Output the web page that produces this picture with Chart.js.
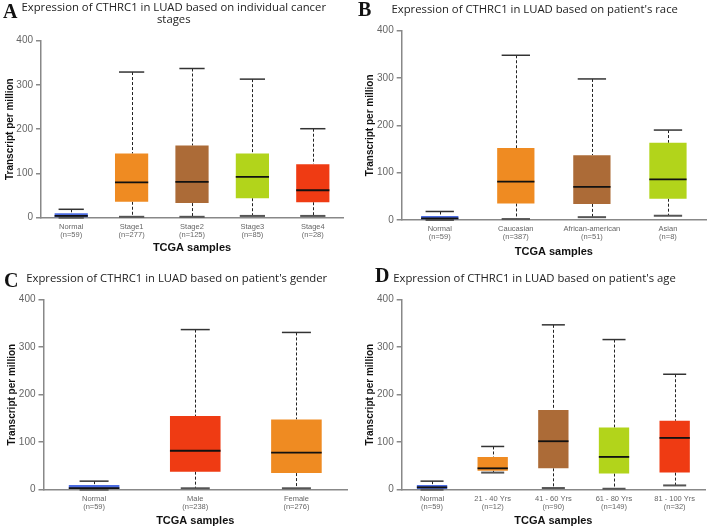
<!DOCTYPE html>
<html>
<head>
<meta charset="utf-8">
<script src="https://cdn.jsdelivr.net/npm/chart.js@4.4.0/dist/chart.umd.min.js"></script>
<style>
body { margin: 0; background: #fff; }
#wrap { position: relative; width: 708px; height: 528px; }
.panel { position: absolute; width: 354px; height: 264px; }
.tag { position: absolute; font-family: "Liberation Serif", serif; font-weight: bold; font-size: 20px; line-height: 20px; color: #111; }
</style>
</head>
<body>
<div id="wrap">
  <div class="panel" style="left:0;top:0"><canvas id="cA" width="354" height="264"></canvas></div>
  <div class="panel" style="left:354px;top:0"><canvas id="cB" width="354" height="264"></canvas></div>
  <div class="panel" style="left:0;top:264px"><canvas id="cC" width="354" height="264"></canvas></div>
  <div class="panel" style="left:354px;top:264px"><canvas id="cD" width="354" height="264"></canvas></div>
  <div class="tag" style="left:3px;top:1px">A</div>
  <div class="tag" style="left:358px;top:-1px">B</div>
  <div class="tag" style="left:4px;top:270px">C</div>
  <div class="tag" style="left:375px;top:265px">D</div>
</div>
<script>
// colours used by the portal
var BLUE = '#4b6be0', ORANGE = '#ef8b22', BROWN = '#ac6b37', LIME = '#b2d41b', RED = '#ef3b13';

// A - cancer stages
var stageCats = ['Normal', 'Stage1', 'Stage2', 'Stage3', 'Stage4'];
var stageN = [59, 277, 125, 85, 28];
var stageMin = [0, 2, 2, 4, 4];
var stageQ1 = [1, 36, 33, 44, 35];
var stageMed = [4, 80, 81, 92, 62];
var stageQ3 = [9.8, 145, 163, 145, 121];
var stageMax = [19, 329, 337, 313, 201];

// B - race
var raceCats = ['Normal', 'Caucasian', 'African-american', 'Asian'];
var raceN = [59, 387, 51, 8];
var raceMin = [0, 2, 6, 9];
var raceQ1 = [1.5, 35, 34, 45];
var raceMed = [3.5, 81, 70, 86];
var raceQ3 = [8.5, 152, 137, 163];
var raceMax = [18, 348, 298, 190];

// C - gender
var genderCats = ['Normal', 'Male', 'Female'];
var genderN = [59, 238, 276];
var genderMin = [0, 3, 3];
var genderQ1 = [1.4, 38, 35];
var genderMed = [3.5, 82, 78];
var genderQ3 = [10, 155, 148];
var genderMax = [18, 337, 331];

// D - age
var ageCats = ['Normal', '21 - 40 Yrs', '41 - 60 Yrs', '61 - 80 Yrs', '81 - 100 Yrs'];
var ageN = [59, 12, 90, 149, 32];
var ageMin = [0, 36, 3.5, 2, 9];
var ageQ1 = [1.4, 40, 45, 34, 36];
var ageMed = [5, 45, 102, 69, 109];
var ageQ3 = [10, 69, 168, 131, 145];
var ageMax = [18, 91, 347, 316, 243];

var yTicks = [0, 100, 200, 300, 400];

// whiskers + medians drawn from the dataset stats via the chart scales
var whiskers = {
  id: 'whiskers',
  beforeDatasetsDraw: function(chart) {
    var ctx = chart.ctx, y = chart.scales.y;
    var st = chart.data.datasets[0].stats;
    var bars = chart.getDatasetMeta(0).data;
    ctx.save();
    ctx.strokeStyle = '#222';
    ctx.lineWidth = 1;
    ctx.setLineDash([3, 2]);
    bars.forEach(function(bar, i) {
      var cx = Math.round(bar.x) + 0.5;
      ctx.beginPath();
      ctx.moveTo(cx, y.getPixelForValue(st.max[i]));
      ctx.lineTo(cx, y.getPixelForValue(st.q3[i]));
      ctx.moveTo(cx, y.getPixelForValue(st.q1[i]));
      ctx.lineTo(cx, y.getPixelForValue(st.min[i]));
      ctx.stroke();
    });
    ctx.restore();
  },
  afterDatasetsDraw: function(chart) {
    var ctx = chart.ctx, y = chart.scales.y;
    var st = chart.data.datasets[0].stats;
    var bars = chart.getDatasetMeta(0).data;
    ctx.save();
    bars.forEach(function(bar, i) {
      var half = bar.width / 2;
      var cap = Math.min(bar.width * 0.38, 14.5);
      // top cap
      ctx.strokeStyle = '#333';
      ctx.lineWidth = 1.5;
      ctx.beginPath();
      ctx.moveTo(bar.x - cap, y.getPixelForValue(st.max[i]));
      ctx.lineTo(bar.x + cap, y.getPixelForValue(st.max[i]));
      ctx.stroke();
      // bottom cap
      ctx.strokeStyle = '#555';
      ctx.lineWidth = 2;
      ctx.beginPath();
      ctx.moveTo(bar.x - cap, y.getPixelForValue(st.min[i]));
      ctx.lineTo(bar.x + cap, y.getPixelForValue(st.min[i]));
      ctx.stroke();
      // median
      ctx.strokeStyle = '#111';
      ctx.lineWidth = 1.8;
      ctx.beginPath();
      ctx.moveTo(bar.x - half, y.getPixelForValue(st.med[i]));
      ctx.lineTo(bar.x + half, y.getPixelForValue(st.med[i]));
      ctx.stroke();
    });
    ctx.restore();
  }
};

function boxChart(id, p) {
  var labels = p.cats.map(function(c, i) { return [c, '(n=' + p.n[i] + ')']; });
  new Chart(document.getElementById(id), {
    type: 'bar',
    data: {
      labels: labels,
      datasets: [{
        data: p.q1.map(function(v, i) { return [v, p.q3[i]]; }),
        backgroundColor: p.colors,
        borderWidth: 0,
        barPercentage: p.barPct,
        categoryPercentage: 1,
        stats: { min: p.min, q1: p.q1, med: p.med, q3: p.q3, max: p.max }
      }]
    },
    options: {
      responsive: false,
      animation: false,
      layout: { padding: { left: p.padLeft, right: 354 - p.area.right, top: 0, bottom: 0 } },
      plugins: {
        legend: { display: false },
        tooltip: { enabled: false },
        title: {
          display: true,
          text: p.title,
          color: '#222',
          font: { family: 'Open Sans', size: 11.3, weight: 'normal', lineHeight: 1.12 },
          padding: { top: p.titleTop, bottom: p.titleBottom }
        }
      },
      scales: {
        x: {
          offset: true,
          grid: { display: false, drawTicks: false },
          border: { color: '#888', width: 1.5 },
          ticks: {
            color: '#666',
            font: { family: 'Liberation Sans', size: 7.5, lineHeight: 1.1 },
            padding: 5,
            maxRotation: 0,
            autoSkip: false
          },
          title: {
            display: true,
            text: 'TCGA samples',
            color: '#111',
            font: { family: 'Liberation Sans', size: 11, weight: 'bold', lineHeight: 1.2 },
            padding: { top: 0, bottom: p.xTitlePad }
          },
          afterFit: function(s) { s.height = 264 - p.area.bottom; }
        },
        y: {
          min: 0,
          max: 400,
          afterBuildTicks: function(s) { s.ticks = yTicks.map(function(v) { return { value: v }; }); },
          grid: { drawOnChartArea: false, drawTicks: true, tickLength: 5, color: '#888', lineWidth: 1.5 },
          border: { color: '#888', width: 1.5 },
          ticks: {
            color: '#666',
            font: { family: 'Liberation Sans', size: 10 },
            padding: 3
          },
          title: {
            display: true,
            text: 'Transcript per million',
            color: '#111',
            font: { family: 'Liberation Sans', size: 10, weight: 'bold', lineHeight: 1.1 },
            padding: { top: p.yTitlePad, bottom: 0 }
          },
          afterFit: function(s) { s.width = p.area.left - p.padLeft; }
        }
      }
    },
    plugins: [whiskers]
  });
}

boxChart('cA', {
  cats: stageCats, n: stageN, min: stageMin, q1: stageQ1, med: stageMed, q3: stageQ3, max: stageMax,
  colors: [BLUE, ORANGE, BROWN, LIME, RED],
  title: ['Expression of CTHRC1 in LUAD based on individual cancer', 'stages'],
  titleTop: 1, titleBottom: 14.3,
  area: { left: 41, right: 343, bottom: 217.7 }, padLeft: 4.5,
  barPct: 0.55, xTitlePad: 9.5, yTitlePad: 0
});
boxChart('cB', {
  cats: raceCats, n: raceN, min: raceMin, q1: raceQ1, med: raceMed, q3: raceQ3, max: raceMax,
  colors: [BLUE, ORANGE, BROWN, LIME],
  title: "Expression of CTHRC1 in LUAD based on patient's race",
  titleTop: 3.7, titleBottom: 14.3,
  area: { left: 47.7, right: 352, bottom: 220 }, padLeft: 9.4,
  barPct: 0.49, xTitlePad: 5.7, yTitlePad: 1.1
});
boxChart('cC', {
  cats: genderCats, n: genderN, min: genderMin, q1: genderQ1, med: genderMed, q3: genderQ3, max: genderMax,
  colors: [BLUE, RED, ORANGE],
  title: "Expression of CTHRC1 in LUAD based on patient's gender",
  titleTop: 8.7, titleBottom: 14.3,
  area: { left: 43.5, right: 347, bottom: 225.7 }, padLeft: 6.4,
  barPct: 0.5, xTitlePad: 0.7, yTitlePad: 0.8
});
boxChart('cD', {
  cats: ageCats, n: ageN, min: ageMin, q1: ageQ1, med: ageMed, q3: ageQ3, max: ageMax,
  colors: [BLUE, ORANGE, BROWN, LIME, RED],
  title: "Expression of CTHRC1 in LUAD based on patient's age",
  titleTop: 8.7, titleBottom: 14.3,
  area: { left: 47.7, right: 351, bottom: 225.7 }, padLeft: 10,
  barPct: 0.5, xTitlePad: 0.7, yTitlePad: 0.5
});
</script>
</body>
</html>
